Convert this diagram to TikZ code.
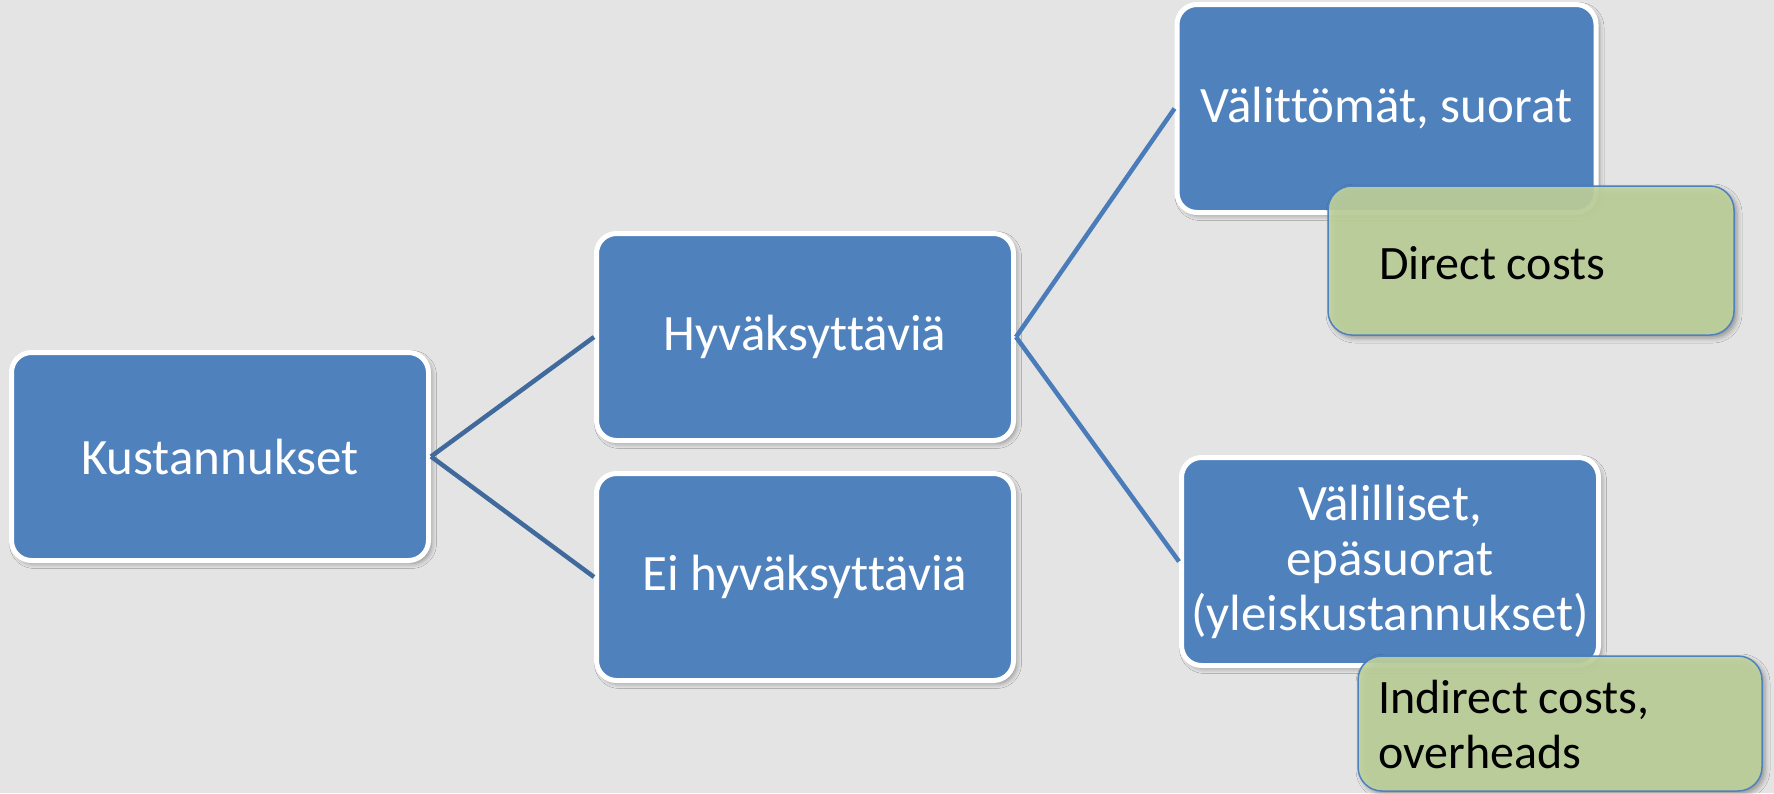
\documentclass[tikz,border=0pt]{standalone}
\usepackage{fontspec}
\setmainfont{Carlito}[Ligatures={NoCommon}]
\usetikzlibrary{shadows.blur}
\definecolor{bg}{HTML}{E4E4E4}
\definecolor{bluefill}{HTML}{4F81BD}
\definecolor{greenfill}{HTML}{C0D39D}
\definecolor{lineL}{HTML}{40699C}
\definecolor{lineR}{HTML}{4A7CB9}
\begin{document}
\begin{tikzpicture}[x=1pt,y=-1pt,
  bluebox/.style={draw=white, line width=5pt, fill=bluefill, rounded corners=20pt,
    text=white, font=\fontsize{51}{55}\selectfont, align=center, inner sep=0pt,
    blur shadow={shadow xshift=3pt, shadow yshift=-3pt, shadow blur radius=5pt, shadow opacity=40}},
  greenbox/.style={draw=bluefill, line width=1.5pt, fill=greenfill, fill opacity=0.9,
    rounded corners=24pt, inner sep=0pt,
    blur shadow={shadow xshift=3pt, shadow yshift=-3pt, shadow blur radius=5pt, shadow opacity=40}},
  gtext/.style={anchor=base west, inner sep=0pt, text=black, font=\fontsize{48}{55}\selectfont},
  connL/.style={draw=lineL, line width=4.5pt},
  connR/.style={draw=lineR, line width=4.5pt}
]
\useasboundingbox[fill=bg] (0,0) rectangle (1774,793);

\node[bluebox, minimum width=417pt, minimum height=208pt] (K) at (220,456.5) {Kustannukset};
\node[bluebox, minimum width=417pt, minimum height=207pt] (H) at (805,337) {Hyväksyttäviä};
\node[bluebox, minimum width=417pt, minimum height=207pt] (E) at (805,577) {Ei hyväksyttäviä};
\node[bluebox, minimum width=419pt, minimum height=208pt] (V1) at (1386.5,108.5) {Välittömät, suorat};
\node[bluebox, minimum width=417pt, minimum height=208pt] (V2) at (1390,561.5) {Välilliset,\\epäsuorat\\(yleiskustannukset)};

\draw[connL] (K.east) -- (H.west);
\draw[connL] (K.east) -- (E.west);
\draw[connR] (H.east) -- (V1.west);
\draw[connR] (H.east) -- (V2.west);

\node[greenbox, minimum width=406pt, minimum height=149pt] (G1) at (1531,260.5) {};
\node[greenbox, minimum width=404pt, minimum height=135pt] (G2) at (1560,723.5) {};

\node[gtext] (d1) at (1379,279) {Direct costs};
\node[gtext] (i1) at (1378,713) {Indirect costs,};
\node[gtext] (o1) at (1378,768) {overheads};
\end{tikzpicture}
\end{document}
